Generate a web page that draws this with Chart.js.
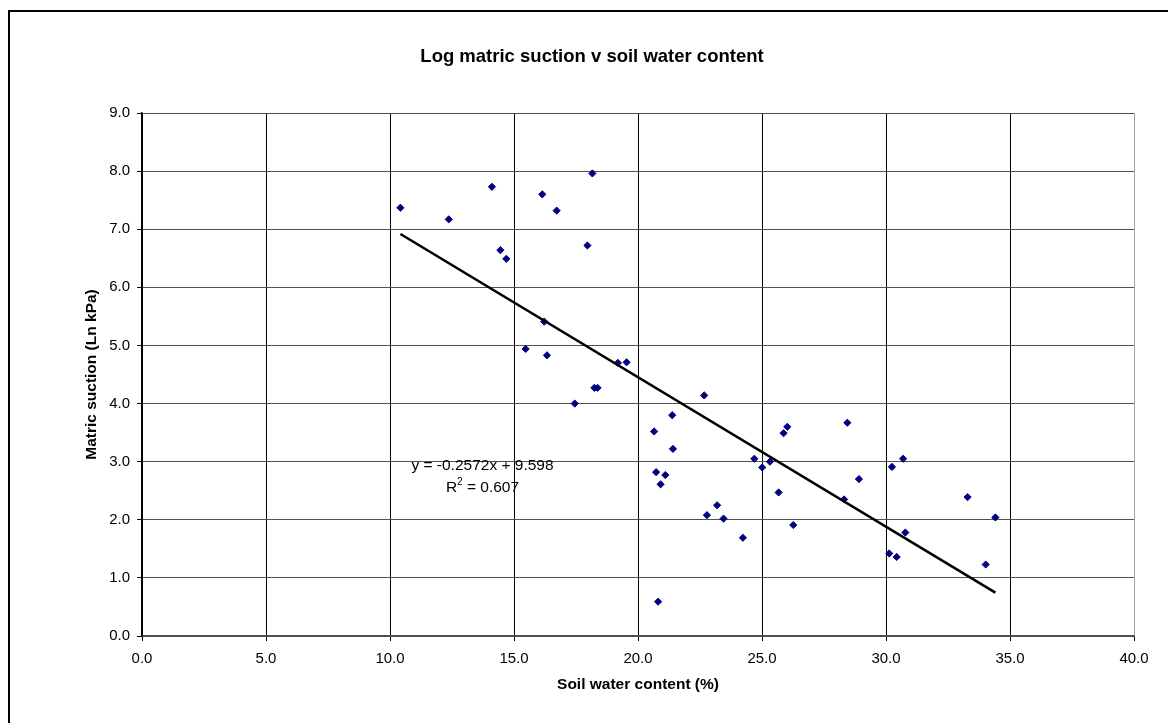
<!DOCTYPE html>
<html>
<head>
<meta charset="utf-8">
<script src="https://cdn.jsdelivr.net/npm/chart.js@4.4.1/dist/chart.umd.min.js"></script>
<style>
  html, body { margin: 0; padding: 0; background: #ffffff; }
  #wrap { width: 1168px; height: 723px; }
</style>
</head>
<body>
<div id="wrap"><canvas id="c" width="1168" height="723"></canvas></div>
<script>
// Soil water content (%) readings
const waterContent = [
  10.42, 12.37, 14.11, 16.14, 16.72, 18.16, 14.45, 14.69, 17.96, 16.22,
  15.47, 16.33, 19.19, 19.54, 18.24, 18.37, 17.45,
  22.67, 21.38, 20.65, 21.41, 20.73, 21.10, 20.91, 23.19, 22.78, 23.45,
  24.23, 20.81, 24.69, 25.01, 25.32, 25.67, 26.02, 25.87, 26.26, 28.44,
  28.31, 28.91, 30.24, 30.69, 30.78, 30.13, 30.43,
  33.29, 34.41, 34.02
];
// Matric suction (Ln kPa) readings
const matricSuction = [
  7.37, 7.17, 7.73, 7.60, 7.32, 7.96, 6.64, 6.49, 6.72, 5.41,
  4.94, 4.83, 4.70, 4.71, 4.27, 4.27, 4.00,
  4.14, 3.80, 3.52, 3.22, 2.82, 2.77, 2.61, 2.25, 2.08, 2.02,
  1.69, 0.59, 3.05, 2.90, 3.00, 2.47, 3.60, 3.49, 1.91, 3.67,
  2.35, 2.70, 2.91, 3.05, 1.78, 1.42, 1.36,
  2.39, 2.04, 1.23
];
// Linear trend line reported on the chart
const trendSlope = -0.2572;
const trendIntercept = 9.598;
const equationLines = ["y = -0.2572x + 9.598", "R", "2", " = 0.607"];

const chartTitle = "Log matric suction v soil water content";
const xTitle = "Soil water content (%)";
const yTitle = "Matric suction (Ln kPa)";

const xMin = Math.min(...waterContent);
const xMax = Math.max(...waterContent);
const trendPoints = [
  { x: xMin, y: trendSlope * xMin + trendIntercept },
  { x: xMax, y: trendSlope * xMax + trendIntercept }
];
const scatterPoints = waterContent.map((x, i) => ({ x: x, y: matricSuction[i] }));

const FONT = "'Liberation Sans', Arial, sans-serif";

const framePlugin = {
  id: 'frame',
  afterDraw(chart) {
    const ctx = chart.ctx;
    ctx.save();
    ctx.strokeStyle = '#000';
    ctx.lineWidth = 2;
    ctx.strokeRect(9, 11, 1200, 760);
    // chart title
    ctx.fillStyle = '#000';
    ctx.font = 'bold 18.5px ' + FONT;
    ctx.textAlign = 'center';
    ctx.textBaseline = 'middle';
    ctx.fillText(chartTitle, 592, 57);
    ctx.restore();
  }
};

const equationPlugin = {
  id: 'equation',
  afterDatasetsDraw(chart) {
    const ctx = chart.ctx;
    const xs = chart.scales.x, ys = chart.scales.y;
    const cx = xs.getPixelForValue(13.73);
    const y1 = ys.getPixelForValue(2.93);
    const y2 = ys.getPixelForValue(2.55);
    ctx.save();
    ctx.fillStyle = '#000';
    ctx.textBaseline = 'middle';
    ctx.font = '15.5px ' + FONT;
    ctx.textAlign = 'center';
    ctx.fillText(equationLines[0], cx, y1);
    const wR = ctx.measureText(equationLines[1]).width;
    const wRest = ctx.measureText(equationLines[3]).width;
    ctx.font = '10px ' + FONT;
    const w2 = ctx.measureText(equationLines[2]).width;
    const total = wR + w2 + wRest;
    let x0 = cx - total / 2;
    ctx.textAlign = 'left';
    ctx.font = '15.5px ' + FONT;
    ctx.fillText(equationLines[1], x0, y2);
    ctx.font = '10px ' + FONT;
    ctx.fillText(equationLines[2], x0 + wR, y2 - 6);
    ctx.font = '15.5px ' + FONT;
    ctx.fillText(equationLines[3], x0 + wR + w2, y2);
    ctx.restore();
  }
};

new Chart(document.getElementById('c'), {
  type: 'scatter',
  data: {
    datasets: [
      {
        type: 'line',
        label: 'Trend',
        data: trendPoints,
        borderColor: '#000',
        borderWidth: 2.6,
        pointRadius: 0,
        fill: false
      },
      {
        label: 'Data',
        data: scatterPoints,
        pointStyle: 'rectRot',
        pointRadius: 3.6,
        backgroundColor: '#000080',
        borderColor: '#000080',
        borderWidth: 1,
        showLine: false
      }
    ]
  },
  options: {
    responsive: false,
    animation: false,
    layout: { padding: { left: 0, right: 34, top: 113, bottom: 0 } },
    plugins: {
      legend: { display: false },
      tooltip: { enabled: false },
      title: { display: false }
    },
    scales: {
      x: {
        type: 'linear',
        min: 0, max: 40,
        afterFit(s) { s.height = 87; },
        ticks: {
          stepSize: 5,
          color: '#000',
          padding: 9,
          font: { family: FONT, size: 15 },
          callback: v => Number(v).toFixed(1)
        },
        grid: {
          color: ctx => (ctx.tick && ctx.tick.value === 40) ? '#a0a0a0' : '#000',
          lineWidth: 1,
          tickLength: 5,
          tickColor: '#000'
        },
        border: { color: '#505050', width: 2 },
        title: {
          display: true,
          text: xTitle,
          color: '#000',
          font: { family: FONT, size: 15.5, weight: 'bold', lineHeight: 1.2 },
          padding: { top: 0, bottom: 28.7 }
        }
      },
      y: {
        type: 'linear',
        min: 0, max: 9,
        afterFit(s) { s.width = 142; },
        ticks: {
          stepSize: 1,
          color: '#000',
          padding: 7,
          font: { family: FONT, size: 15 },
          callback: v => Number(v).toFixed(1)
        },
        grid: {
          color: '#505050',
          lineWidth: 1,
          tickLength: 5,
          tickColor: '#000'
        },
        border: { color: '#000', width: 1.5 },
        title: {
          display: true,
          text: yTitle,
          color: '#000',
          font: { family: FONT, size: 15.5, weight: 'bold', lineHeight: 1.2 },
          padding: { top: 82, bottom: 0 }
        }
      }
    }
  },
  plugins: [framePlugin, equationPlugin]
});
</script>
</body>
</html>
